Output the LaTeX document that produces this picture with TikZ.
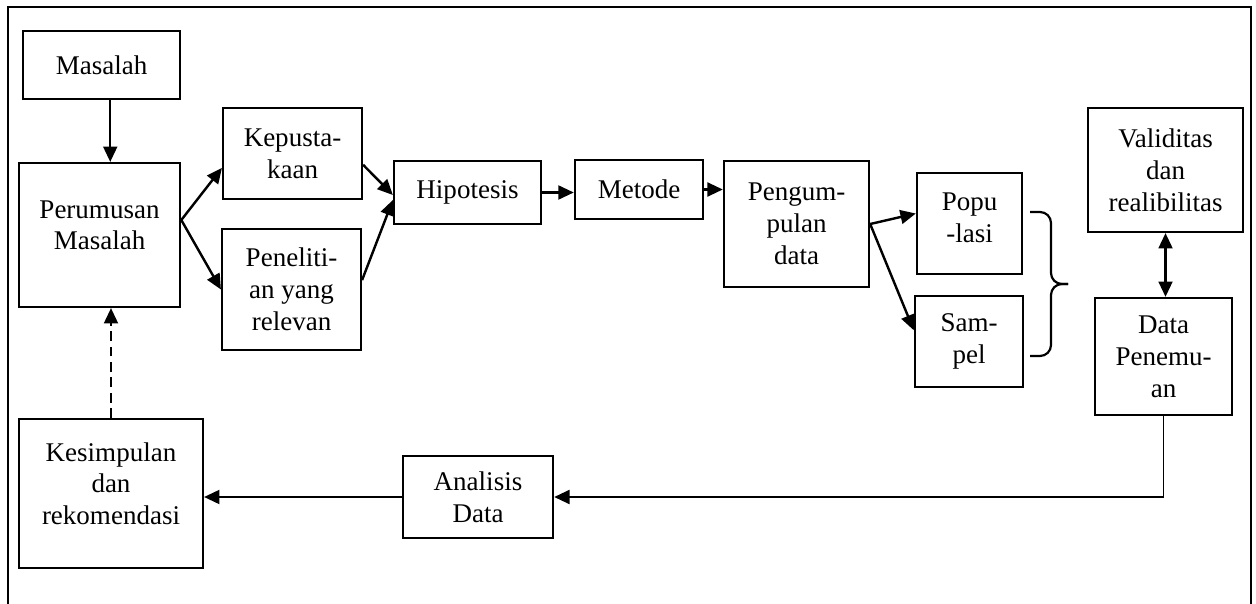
\documentclass[tikz,border=0pt]{standalone}
\usepackage{fontspec}
\setmainfont{Liberation Serif}
\usepackage{tikz}
\usetikzlibrary{arrows.meta, positioning}

\begin{document}
\begin{tikzpicture}[
  x=0.016cm, y=-0.016cm,
  box/.style  = {draw, line width=1.1pt, align=center, inner sep=2pt,
                 font=\fontsize{12.3}{14.5}\selectfont},
  arrow/.style = {-{Triangle[length=7pt, width=6.3pt]}, line width=1.1pt},
  twoway/.style = {{Triangle[length=7pt, width=6.3pt]}-{Triangle[length=7pt, width=6.3pt]},
                   line width=1.1pt},
  frame/.style = {line width=1.1pt},
]
\useasboundingbox (0,0) rectangle (1256,604);

% Outer frame (open at the bottom)
\draw[frame] (8,604) -- (8,7) -- (1251,7) -- (1251,604);

% Left column
\node[box, minimum width=2.51cm, minimum height=1.09cm] (masalah) at (101.5,65)  {Masalah};
\node[box, minimum width=2.58cm, minimum height=2.30cm, text depth=9pt]
      (rumus)   at (99.5,235)  {Perumusan\\Masalah};
\node[box, minimum width=2.94cm, minimum height=2.38cm, text depth=9pt]
      (simpul)  at (111,493.5) {Kesimpulan\\dan\\rekomendasi};

% Top row: teori, hipotesis, metode
\node[box, minimum width=2.22cm, minimum height=1.46cm] (pustaka) at (292.5,153.5) {Kepusta-\\kaan};
\node[box, minimum width=2.22cm, minimum height=1.94cm] (teliti)  at (291.5,289.5) {Peneliti-\\an yang\\relevan};
\node[box, minimum width=2.35cm, minimum height=1.01cm] (hipo)    at (467.5,192.5) {Hipotesis};
\node[box, minimum width=2.05cm, minimum height=0.94cm] (metode)  at (639,189.5)   {Metode};
\node[box, minimum width=2.32cm, minimum height=2.02cm] (kumpul)  at (796.5,224)   {Pengum-\\pulan\\data};

% Populasi / sampel
\node[box, minimum width=1.68cm, minimum height=1.62cm, text depth=5pt]
      (popul)  at (969.5,223.5) {Popu\\-lasi};
\node[box, minimum width=1.73cm, minimum height=1.46cm] (sampel) at (969,341.5) {Sam-\\pel};

% Right column
\node[box, minimum width=2.48cm, minimum height=1.98cm] (valid)  at (1165.5,170)  {Validitas\\dan\\realibilitas};
\node[box, minimum width=2.19cm, minimum height=1.87cm] (temuan) at (1163.5,356.5) {Data\\Penemu-\\an};

% Bottom row
\node[box, minimum width=2.40cm, minimum height=1.31cm] (analisis) at (478,497) {Analisis\\Data};

% Arrows
\draw[arrow] ([xshift=0.14cm]masalah.south) -- ([xshift=0.14cm]masalah.south |- rumus.north);
\draw[arrow] ([yshift=0.24cm]rumus.east) -- ([yshift=-0.23cm]pustaka.west);
\draw[arrow] ([yshift=0.24cm]rumus.east) -- (teliti.west);
\draw[arrow] ([yshift=-0.18cm]pustaka.east) -- ([yshift=-0.04cm]hipo.west);
\draw[arrow] ([yshift=0.15cm]teliti.east) -- ([yshift=-0.12cm]hipo.west);
\draw[arrow] (hipo.east) -- (hipo.east -| metode.west);
\draw[arrow] (metode.east) -- (metode.east -| kumpul.west);
\draw[arrow] (kumpul.east) -- ([yshift=0.16cm]popul.west);
\draw[arrow] (kumpul.east) -- ([yshift=0.18cm]sampel.west);
\draw[twoway] (valid.south) -- (valid.south |- temuan.north);

% Brace over populasi and sampel
\draw[line width=1pt, rounded corners=5pt]
  (1030,212) -- (1051,212) -- (1051,284) -- (1068,284);
\draw[line width=1pt, rounded corners=5pt]
  (1068,284) -- (1051,284) -- (1051,356) -- (1030,356);

% Back to the conclusion
\coordinate (turn) at (temuan.south |- analisis.east);
\draw[line width=0.5pt] (temuan.south) -- (turn);
\draw[arrow] (turn) -- (analisis.east);
\draw[arrow] (analisis.west) -- (analisis.west -| simpul.east);
\draw[arrow, dash pattern=on 4.5pt off 2.5pt] (simpul.north) -- (simpul.north |- rumus.south);

\end{tikzpicture}
\end{document}
